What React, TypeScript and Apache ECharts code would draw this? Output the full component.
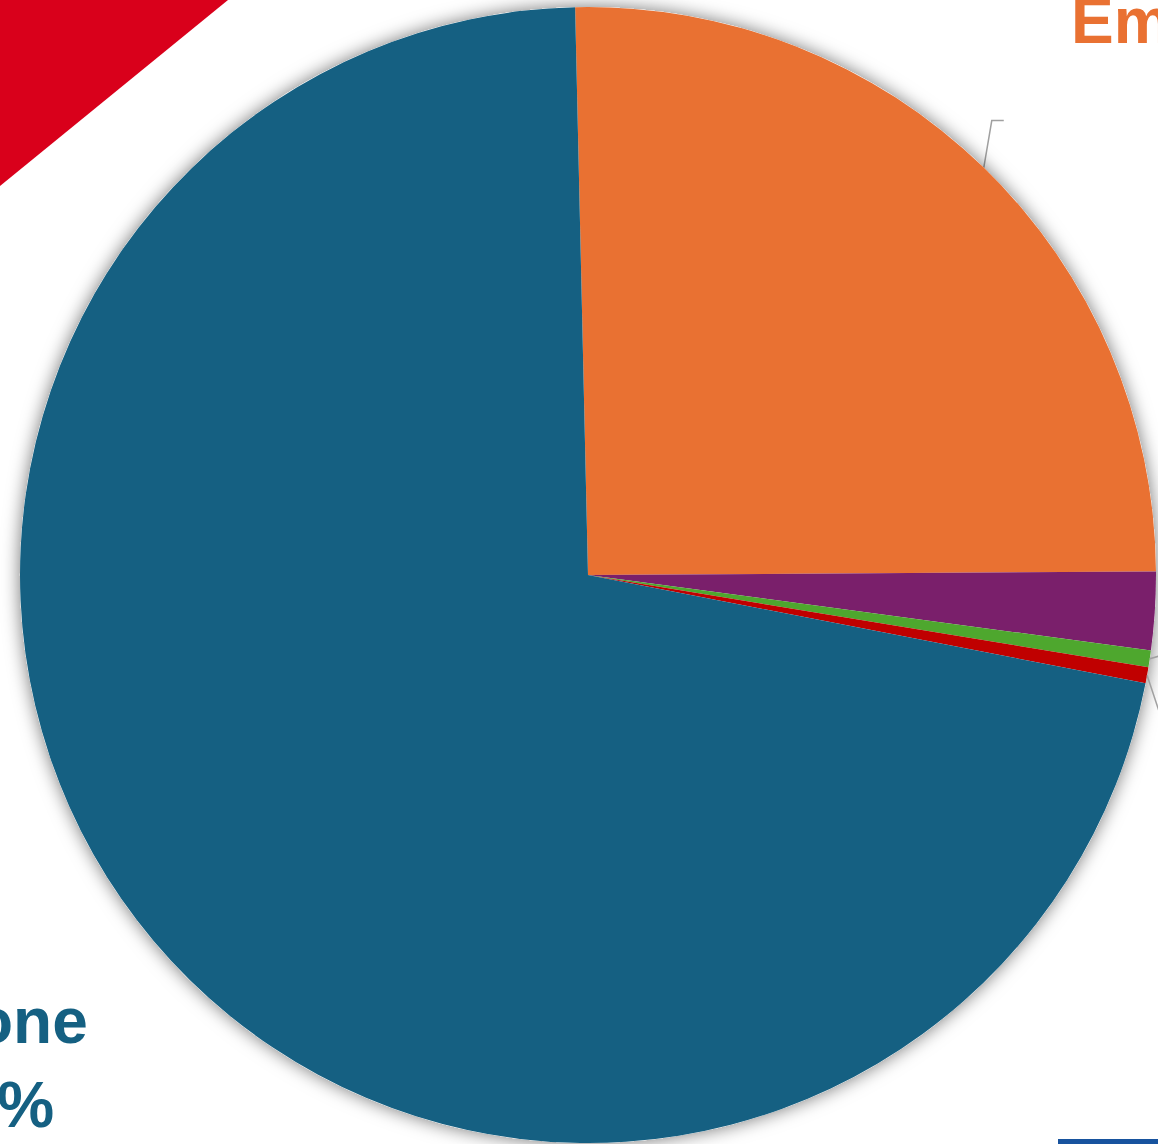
import React, { useEffect, useRef } from 'react';
import * as echarts from 'echarts';

// Slices in clockwise order, starting just left of 12 o'clock
const sliceNames = ['Email', 'Text', 'Chat', 'Other', 'Phone'];
const sliceValues = [25.26, 2.22, 0.475, 0.46, 71.58];
const sliceColors = ['#E97132', '#7A1F6B', '#4EA72E', '#C00000', '#156082'];
const sliceLabels = ['Email 25%', '', '', '', 'Phone\n72%'];

const CX = 588;
const CY = 575;
const R = 568;
const START_DEG = -1.3; // clockwise from 12 o'clock

function midPoint(i: number): [number, number] {
  const total = sliceValues.reduce((a, b) => a + b, 0);
  let cum = 0;
  for (let k = 0; k < i; k++) cum += sliceValues[k];
  const theta = ((START_DEG + (360 * (cum + sliceValues[i] / 2)) / total) * Math.PI) / 180;
  return [CX + R * Math.sin(theta), CY - R * Math.cos(theta)];
}

export default function App() {
  const ref = useRef<HTMLDivElement>(null);
  useEffect(() => {
    const chart = echarts.init(ref.current!, undefined, { renderer: 'svg' });
    const lineStyle = { stroke: '#A0A0A0', lineWidth: 1.5, fill: 'none' };
    const g = midPoint(2);
    const r = midPoint(3);
    const data = sliceValues.map((v, i) => {
      const hasLabel = sliceLabels[i] !== '';
      return {
        value: v,
        name: sliceNames[i],
        itemStyle: { color: sliceColors[i] },
        label: hasLabel
          ? {
              show: true,
              formatter: sliceLabels[i],
              color: sliceColors[i],
              fontSize: 64,
              fontWeight: 'bold',
              fontFamily: 'Liberation Sans',
              lineHeight: 84,
            }
          : { show: false },
        labelLine: { show: i === 0, lineStyle: { color: '#A0A0A0', width: 1.5 } },
      };
    });
    const option: any = {
      animation: false,
      backgroundColor: '#ffffff',
      graphic: [
        {
          type: 'polygon',
          shape: { points: [[0, 0], [228, 0], [0, 186]] },
          style: { fill: '#D9001B' },
          z: 0,
        },
        {
          type: 'rect',
          shape: { x: 1058, y: 1139, width: 100, height: 5 },
          style: { fill: '#17539E' },
        },
        {
          type: 'polyline',
          shape: { points: [g, [g[0] + 20, g[1] - 6]] },
          style: lineStyle,
          z: 10,
        },
        {
          type: 'polyline',
          shape: { points: [r, [r[0] + 12, r[1] + 36]] },
          style: lineStyle,
          z: 10,
        },
      ],
      series: [
        {
          type: 'pie',
          silent: true,
          center: [CX, CY],
          radius: R,
          label: { show: false },
          labelLine: { show: false },
          itemStyle: {
            color: '#ffffff',
            shadowBlur: 18,
            shadowColor: 'rgba(0,0,0,0.55)',
          },
          data: [{ value: 1, name: '' }],
        },
        {
          type: 'pie',
          center: [CX, CY],
          radius: R,
          startAngle: 90 - START_DEG,
          clockwise: true,
          avoidLabelOverlap: false,
          label: { position: 'outside' },
          itemStyle: { borderWidth: 0 },
          data,
          labelLayout: (params: any) => {
            const i = params.dataIndex;
            if (i === 0) {
              const p0 = midPoint(0);
              const p1: [number, number] = [p0[0] + 8, p0[1] - 47];
              const p2: [number, number] = [p1[0] + 12, p1[1]];
              return {
                x: 1071,
                y: 21,
                align: 'left',
                verticalAlign: 'middle',
                labelLinePoints: [p0, p1, p2],
              };
            }
            if (i === 4) {
              return { x: -10, y: 1063, align: 'center', verticalAlign: 'middle' };
            }
            return {};
          },
        },
      ],
    };
    chart.setOption(option);
    return () => chart.dispose();
  }, []);
  return (
    <div
      ref={ref}
      style={{ position: 'fixed', left: 0, top: 0, width: 1158, height: 1144 }}
    />
  );
}
